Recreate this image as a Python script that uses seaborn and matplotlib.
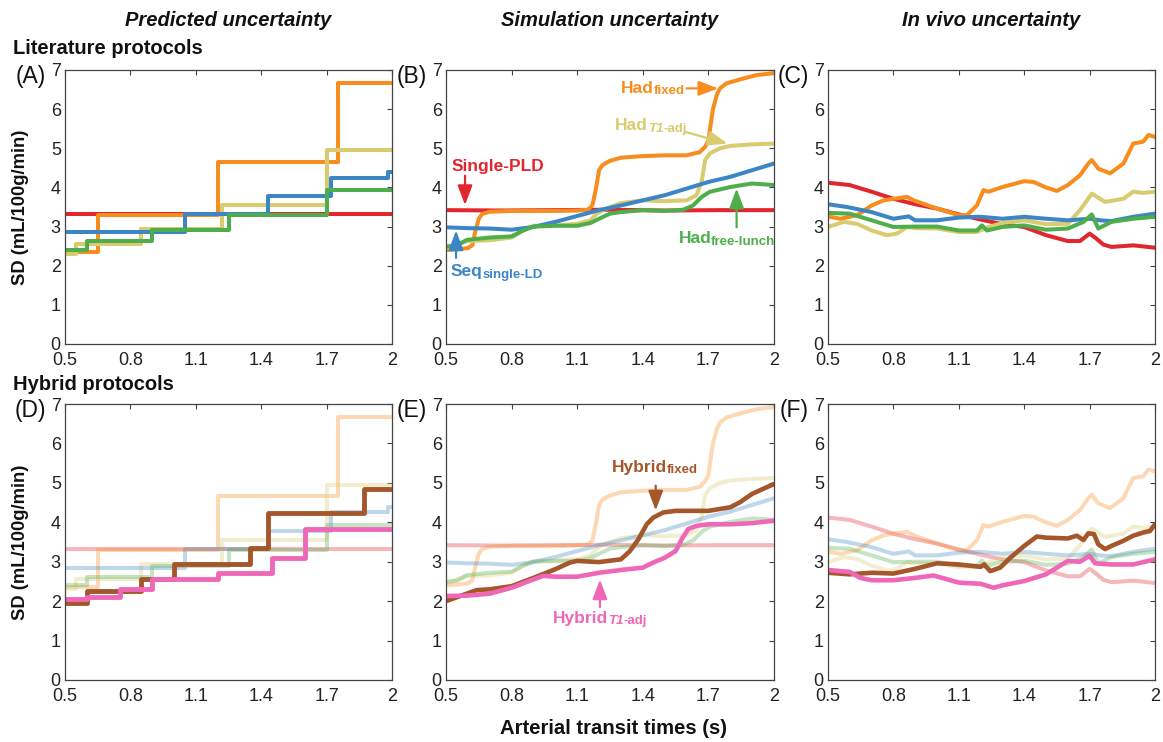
import matplotlib
matplotlib.use("Agg")
import matplotlib.pyplot as plt
import pandas as pd
import seaborn as sns

# ---------------------------------------------------------------- data
X_TICKS = [0.5, 0.8, 1.1, 1.4, 1.7, 2.0]
X_TICK_LABELS = ["0.5", "0.8", "1.1", "1.4", "1.7", "2"]
Y_TICKS = [0, 1, 2, 3, 4, 5, 6, 7]

LITERATURE = ["Single-PLD", "Had_fixed", "Had_T1-adj", "Seq_single-LD", "Had_free-lunch"]
HYBRIDS = ["Hybrid_fixed", "Hybrid_T1-adj"]

COLORS = {
    "Single-PLD": "#e2262e",
    "Had_fixed": "#f78d1e",
    "Had_T1-adj": "#d8cb70",
    "Seq_single-LD": "#3d86c5",
    "Had_free-lunch": "#4fae4c",
    "Hybrid_fixed": "#a5562b",
    "Hybrid_T1-adj": "#ef67b7",
}

# (A)/(D) predicted uncertainty: step functions (breakpoints, levels)
pred_single_x = [0.5, 2.0]
pred_single_y = [3.32, 3.32]
pred_hadfix_x = [0.5, 0.65, 1.2, 1.75, 2.0]
pred_hadfix_y = [2.35, 3.30, 4.66, 6.68, 6.68]
pred_hadt1_x = [0.5, 0.55, 0.85, 1.22, 1.70, 2.0]
pred_hadt1_y = [2.30, 2.55, 2.95, 3.55, 4.95, 4.95]
pred_seq_x = [0.5, 1.05, 1.43, 1.72, 1.98, 2.0]
pred_seq_y = [2.85, 3.32, 3.78, 4.25, 4.40, 4.40]
pred_free_x = [0.5, 0.6, 0.9, 1.25, 1.70, 2.0]
pred_free_y = [2.40, 2.62, 2.90, 3.30, 3.93, 3.93]
pred_hybfix_x = [0.5, 0.6, 0.85, 1.0, 1.35, 1.43, 1.87, 2.0]
pred_hybfix_y = [1.95, 2.25, 2.55, 2.95, 3.35, 4.23, 4.85, 4.85]
pred_hybt1_x = [0.5, 0.6, 0.75, 0.9, 1.2, 1.45, 1.6, 2.0]
pred_hybt1_y = [2.06, 2.10, 2.30, 2.57, 2.72, 3.10, 3.83, 3.83]

# (B)/(E) simulation uncertainty
sim_single_x = [0.5, 0.75, 1.0, 1.25, 1.5, 1.75, 2.0]
sim_single_y = [3.42, 3.41, 3.42, 3.43, 3.41, 3.42, 3.42]
sim_hadfix_x = [0.5, 0.55, 0.6, 0.62, 0.635, 0.65, 0.665, 0.7, 0.8, 0.9, 1.0, 1.1, 1.15,
                1.17, 1.185, 1.2, 1.215, 1.25, 1.3, 1.4, 1.5, 1.6, 1.66, 1.685, 1.7, 1.72,
                1.738, 1.753, 1.783, 1.845, 1.92, 2.0]
sim_hadfix_y = [2.40, 2.42, 2.45, 2.52, 2.90, 3.20, 3.32, 3.38, 3.40, 3.40, 3.40, 3.41, 3.43,
                3.55, 3.95, 4.44, 4.57, 4.68, 4.76, 4.80, 4.82, 4.82, 4.90, 5.04, 5.20, 5.98,
                6.36, 6.53, 6.66, 6.76, 6.87, 6.92]
sim_hadt1_x = [0.5, 0.55, 0.595, 0.7, 0.8, 0.853, 0.9, 1.0, 1.1, 1.16, 1.19, 1.22, 1.3, 1.4,
               1.5, 1.6, 1.646, 1.67, 1.685, 1.707, 1.753, 1.8, 1.9, 2.0]
sim_hadt1_y = [2.45, 2.55, 2.63, 2.65, 2.72, 2.90, 3.02, 3.03, 3.07, 3.16, 3.33, 3.43, 3.60,
               3.67, 3.65, 3.67, 3.80, 4.18, 4.70, 4.87, 5.00, 5.06, 5.10, 5.12]
sim_seq_x = [0.5, 0.6, 0.7, 0.8, 0.9, 1.0, 1.1, 1.2, 1.3, 1.4, 1.5, 1.6, 1.7, 1.8, 1.9, 2.0]
sim_seq_y = [2.98, 2.96, 2.95, 2.92, 2.99, 3.12, 3.27, 3.42, 3.54, 3.67, 3.80, 3.97, 4.14,
             4.27, 4.44, 4.61]
sim_free_x = [0.5, 0.55, 0.595, 0.7, 0.8, 0.853, 0.9, 1.0, 1.1, 1.16, 1.2, 1.25, 1.3, 1.4,
              1.5, 1.585, 1.63, 1.67, 1.707, 1.8, 1.9, 2.0]
sim_free_y = [2.49, 2.52, 2.66, 2.72, 2.75, 2.90, 3.00, 3.02, 3.02, 3.09, 3.20, 3.33, 3.37,
              3.42, 3.40, 3.43, 3.54, 3.76, 3.89, 4.01, 4.10, 4.06]
sim_hybfix_x = [0.5, 0.595, 0.64, 0.7, 0.8, 0.9, 1.0, 1.067, 1.1, 1.2, 1.3, 1.341, 1.38,
                1.418, 1.448, 1.494, 1.55, 1.7, 1.8, 1.845, 1.9, 1.951, 2.0]
sim_hybfix_y = [2.00, 2.19, 2.28, 2.30, 2.38, 2.59, 2.81, 2.98, 3.02, 2.99, 3.06, 3.27, 3.57,
                3.95, 4.12, 4.25, 4.29, 4.29, 4.38, 4.51, 4.72, 4.85, 4.97]
sim_hybt1_x = [0.5, 0.595, 0.7, 0.8, 0.9, 0.945, 1.0, 1.1, 1.2, 1.3, 1.4, 1.448, 1.5, 1.55,
               1.578, 1.608, 1.646, 1.7, 1.8, 1.9, 2.0]
sim_hybt1_y = [2.13, 2.14, 2.19, 2.34, 2.55, 2.64, 2.62, 2.62, 2.72, 2.79, 2.85, 2.98, 3.10,
               3.27, 3.57, 3.83, 3.91, 3.95, 3.95, 3.98, 4.04]

# (C)/(F) in vivo uncertainty
vivo_single_x = [0.5, 0.6, 0.7, 0.8, 0.9, 1.0, 1.1, 1.2, 1.3, 1.4, 1.5, 1.6, 1.656, 1.7,
                 1.725, 1.763, 1.8, 1.9, 2.0]
vivo_single_y = [4.12, 4.06, 3.89, 3.71, 3.57, 3.46, 3.31, 3.18, 3.06, 2.99, 2.78, 2.63, 2.63,
                 2.82, 2.72, 2.54, 2.48, 2.52, 2.46]
vivo_hadfix_x = [0.5, 0.557, 0.633, 0.7, 0.755, 0.8, 0.862, 0.893, 1.0, 1.1, 1.137, 1.183,
                 1.213, 1.236, 1.3, 1.4, 1.443, 1.5, 1.55, 1.6, 1.656, 1.694, 1.71, 1.74,
                 1.794, 1.855, 1.9, 1.946, 1.97, 2.0]
vivo_hadfix_y = [3.26, 3.20, 3.29, 3.54, 3.67, 3.71, 3.76, 3.67, 3.46, 3.29, 3.29, 3.54,
                 3.93, 3.89, 4.01, 4.16, 4.14, 4.00, 3.91, 4.06, 4.31, 4.61, 4.70, 4.48,
                 4.36, 4.61, 5.12, 5.17, 5.34, 5.29]
vivo_hadt1_x = [0.5, 0.572, 0.633, 0.7, 0.77, 0.816, 0.862, 0.9, 1.0, 1.1, 1.183, 1.236, 1.3,
                1.4, 1.5, 1.6, 1.656, 1.71, 1.733, 1.771, 1.855, 1.9, 1.946, 2.0]
vivo_hadt1_y = [2.99, 3.12, 3.07, 2.90, 2.78, 2.82, 2.99, 2.96, 2.95, 2.86, 2.86, 2.99, 3.09,
                3.16, 3.06, 3.07, 3.42, 3.84, 3.76, 3.63, 3.71, 3.89, 3.86, 3.89]
vivo_seq_x = [0.5, 0.587, 0.7, 0.8, 0.87, 0.9, 1.0, 1.1, 1.2, 1.3, 1.4, 1.5, 1.6, 1.7,
              1.748, 1.8, 1.9, 2.0]
vivo_seq_y = [3.57, 3.50, 3.37, 3.20, 3.26, 3.16, 3.16, 3.23, 3.25, 3.20, 3.25, 3.20, 3.16,
              3.20, 3.16, 3.14, 3.25, 3.33]
vivo_free_x = [0.5, 0.6, 0.7, 0.8, 0.9, 1.0, 1.1, 1.183, 1.206, 1.229, 1.3, 1.4, 1.5, 1.6,
               1.672, 1.71, 1.74, 1.8, 1.9, 2.0]
vivo_free_y = [3.35, 3.33, 3.16, 2.99, 3.00, 3.00, 2.90, 2.90, 3.03, 2.90, 2.99, 3.03, 2.92,
               2.95, 3.12, 3.31, 2.95, 3.12, 3.20, 3.25]
vivo_hybfix_x = [0.5, 0.6, 0.7, 0.8, 0.9, 1.0, 1.1, 1.2, 1.216, 1.244, 1.29, 1.336, 1.4,
                 1.458, 1.5, 1.6, 1.641, 1.672, 1.694, 1.72, 1.74, 1.771, 1.8, 1.855, 1.9,
                 1.946, 1.977, 2.0]
vivo_hybfix_y = [2.72, 2.68, 2.72, 2.70, 2.82, 2.96, 2.93, 2.87, 2.93, 2.76, 2.85, 3.10, 3.40,
                 3.64, 3.61, 3.59, 3.66, 3.55, 3.72, 3.70, 3.44, 3.32, 3.40, 3.53, 3.66,
                 3.74, 3.78, 3.95]
vivo_hybt1_x = [0.5, 0.6, 0.648, 0.7, 0.8, 0.9, 0.984, 1.1, 1.2, 1.259, 1.3, 1.4, 1.5, 1.55,
                1.6, 1.656, 1.7, 1.725, 1.8, 1.9, 2.0]
vivo_hybt1_y = [2.79, 2.74, 2.59, 2.53, 2.53, 2.59, 2.65, 2.47, 2.44, 2.34, 2.40, 2.51, 2.68,
                2.85, 3.02, 3.00, 3.15, 2.96, 2.93, 2.93, 3.06]

PRED = {
    "Single-PLD": (pred_single_x, pred_single_y),
    "Had_fixed": (pred_hadfix_x, pred_hadfix_y),
    "Had_T1-adj": (pred_hadt1_x, pred_hadt1_y),
    "Seq_single-LD": (pred_seq_x, pred_seq_y),
    "Had_free-lunch": (pred_free_x, pred_free_y),
    "Hybrid_fixed": (pred_hybfix_x, pred_hybfix_y),
    "Hybrid_T1-adj": (pred_hybt1_x, pred_hybt1_y),
}
SIM = {
    "Single-PLD": (sim_single_x, sim_single_y),
    "Had_fixed": (sim_hadfix_x, sim_hadfix_y),
    "Had_T1-adj": (sim_hadt1_x, sim_hadt1_y),
    "Seq_single-LD": (sim_seq_x, sim_seq_y),
    "Had_free-lunch": (sim_free_x, sim_free_y),
    "Hybrid_fixed": (sim_hybfix_x, sim_hybfix_y),
    "Hybrid_T1-adj": (sim_hybt1_x, sim_hybt1_y),
}
VIVO = {
    "Single-PLD": (vivo_single_x, vivo_single_y),
    "Had_fixed": (vivo_hadfix_x, vivo_hadfix_y),
    "Had_T1-adj": (vivo_hadt1_x, vivo_hadt1_y),
    "Seq_single-LD": (vivo_seq_x, vivo_seq_y),
    "Had_free-lunch": (vivo_free_x, vivo_free_y),
    "Hybrid_fixed": (vivo_hybfix_x, vivo_hybfix_y),
    "Hybrid_T1-adj": (vivo_hybt1_x, vivo_hybt1_y),
}

# ---------------------------------------------------------------- style
sns.set_theme(style="white")
plt.rcParams["font.family"] = ["Liberation Sans", "DejaVu Sans"]

W, H = 1163, 742
fig = plt.figure(figsize=(W / 100, H / 100), dpi=100)


def add_axes(left, top, right, bottom):
    return fig.add_axes([left / W, 1 - bottom / H, (right - left) / W, (bottom - top) / H])


def draw(ax, series, names, step=False, alpha=1.0, lw=2.9):
    for name in names:
        xs, ys = series[name]
        df = pd.DataFrame({"ATT": xs, "SD": ys, "protocol": name})
        sns.lineplot(data=df, x="ATT", y="SD", hue="protocol",
                     palette={name: COLORS[name]}, ax=ax, legend=False,
                     estimator=None, sort=False, linewidth=lw, alpha=alpha,
                     drawstyle="steps-post" if step else "default")


def style(ax, letter):
    ax.set_xlim(0.5, 2.0)
    ax.set_ylim(0, 7)
    ax.set_xticks(X_TICKS)
    ax.set_xticklabels(X_TICK_LABELS)
    ax.set_yticks(Y_TICKS)
    ax.set_yticklabels([str(t) for t in Y_TICKS])
    ax.set_xlabel("")
    ax.set_ylabel("")
    ax.tick_params(direction="in", top=True, right=True, length=3.5, width=0.8,
                   color="#444444", labelsize=13, labelcolor="#222222")
    ax.tick_params(axis="x", pad=6)
    ax.tick_params(axis="y", pad=3)
    for s in ax.spines.values():
        s.set_visible(True)
        s.set_color("#444444")
        s.set_linewidth(0.9)
    ax.annotate(letter, xy=(0, 1), xycoords="axes fraction", xytext=(-19, -7),
                textcoords="offset pixels", ha="right", va="center",
                fontsize=16.5, color="#111111")


def label(ax, x, y, main, sub, color, italic=None, size=12.5, subsize=9.5):
    t = ax.text(x, y, main, color=color, fontsize=size, fontweight="bold",
                ha="left", va="center")
    parts = ([(italic, "italic")] if italic else []) + [(sub, "normal")]
    prev = t
    for i, (txt, st) in enumerate(parts):
        off = (0, -1.5) if i == 0 else (0, 0)
        prev = ax.annotate(txt, xy=(1, 0), xycoords=prev, xytext=off,
                           textcoords="offset pixels", ha="left", va="bottom",
                           fontsize=subsize, fontweight="bold", fontstyle=st,
                           color=color)


def arrow(ax, start, end, color):
    ax.annotate("", xy=end, xytext=start,
                arrowprops=dict(arrowstyle="-|>,head_length=0.85,head_width=0.32",
                                color=color, lw=1.6, shrinkA=0, shrinkB=0,
                                mutation_scale=14))


TOP = (70, 344)
BOT = (404, 680)
COLS = [(65, 392), (446, 774), (828, 1155)]

axA = add_axes(COLS[0][0], TOP[0], COLS[0][1], TOP[1])
axB = add_axes(COLS[1][0], TOP[0], COLS[1][1], TOP[1])
axC = add_axes(COLS[2][0], TOP[0], COLS[2][1], TOP[1])
axD = add_axes(COLS[0][0], BOT[0], COLS[0][1], BOT[1])
axE = add_axes(COLS[1][0], BOT[0], COLS[1][1], BOT[1])
axF = add_axes(COLS[2][0], BOT[0], COLS[2][1], BOT[1])

FADE = 0.33
draw(axA, PRED, LITERATURE, step=True)
draw(axD, PRED, LITERATURE, step=True, alpha=FADE)
draw(axD, PRED, HYBRIDS, step=True, lw=3.5)

draw(axB, SIM, LITERATURE)
draw(axE, SIM, LITERATURE, alpha=FADE)
draw(axE, SIM, HYBRIDS, lw=3.3)

draw(axC, VIVO, LITERATURE)
draw(axF, VIVO, LITERATURE, alpha=FADE)
draw(axF, VIVO, HYBRIDS, lw=3.3)

for ax, letter in zip([axA, axB, axC, axD, axE, axF], "ABCDEF"):
    style(ax, f"({letter})")

# annotations panel B
c = COLORS
label(axB, 1.30, 6.53, "Had", "fixed", c["Had_fixed"])
arrow(axB, (1.60, 6.53), (1.745, 6.53), c["Had_fixed"])
label(axB, 1.273, 5.57, "Had", "-adj", c["Had_T1-adj"], italic="T1")
arrow(axB, (1.593, 5.42), (1.787, 5.12), c["Had_T1-adj"])
axB.text(0.526, 4.53, "Single-PLD", color=c["Single-PLD"], fontsize=12.5,
         fontweight="bold", ha="left", va="center")
arrow(axB, (0.587, 4.30), (0.587, 3.55), c["Single-PLD"])
label(axB, 0.523, 1.84, "Seq", "single-LD", c["Seq_single-LD"])
arrow(axB, (0.546, 2.20), (0.546, 2.90), c["Seq_single-LD"])
label(axB, 1.563, 2.69, "Had", "free-lunch", c["Had_free-lunch"])
arrow(axB, (1.829, 2.98), (1.829, 3.97), c["Had_free-lunch"])

# annotations panel E
label(axE, 1.258, 5.40, "Hybrid", "fixed", c["Hybrid_fixed"])
arrow(axE, (1.459, 4.93), (1.459, 4.30), c["Hybrid_fixed"])
label(axE, 0.991, 1.57, "Hybrid", "-adj", c["Hybrid_T1-adj"], italic="T1")
arrow(axE, (1.204, 1.85), (1.204, 2.55), c["Hybrid_T1-adj"])

# titles / labels
for (l, r), title in zip(COLS, ["Predicted uncertainty", "Simulation uncertainty",
                                "In vivo uncertainty"]):
    fig.text((l + r) / 2 / W, 1 - 21 / H, title, ha="center", va="center",
             fontsize=14.5, fontweight="bold", fontstyle="italic", color="#111111")

fig.text(13 / W, 1 - 48 / H, "Literature protocols", ha="left", va="center",
         fontsize=14.5, fontweight="bold", color="#111111")
fig.text(13 / W, 1 - 385 / H, "Hybrid protocols", ha="left", va="center",
         fontsize=14.5, fontweight="bold", color="#111111")
for top, bottom in [TOP, BOT]:
    fig.text(21 / W, 1 - (top + bottom) / 2 / H, "SD (mL/100g/min)", rotation=90,
             ha="center", va="center", fontsize=13.2, fontweight="bold", color="#111111")
fig.text(613 / W, 1 - 729 / H, "Arterial transit times (s)", ha="center", va="center",
         fontsize=14.6, fontweight="bold", color="#111111")

fig.savefig("out.png", dpi=100, facecolor="white")
